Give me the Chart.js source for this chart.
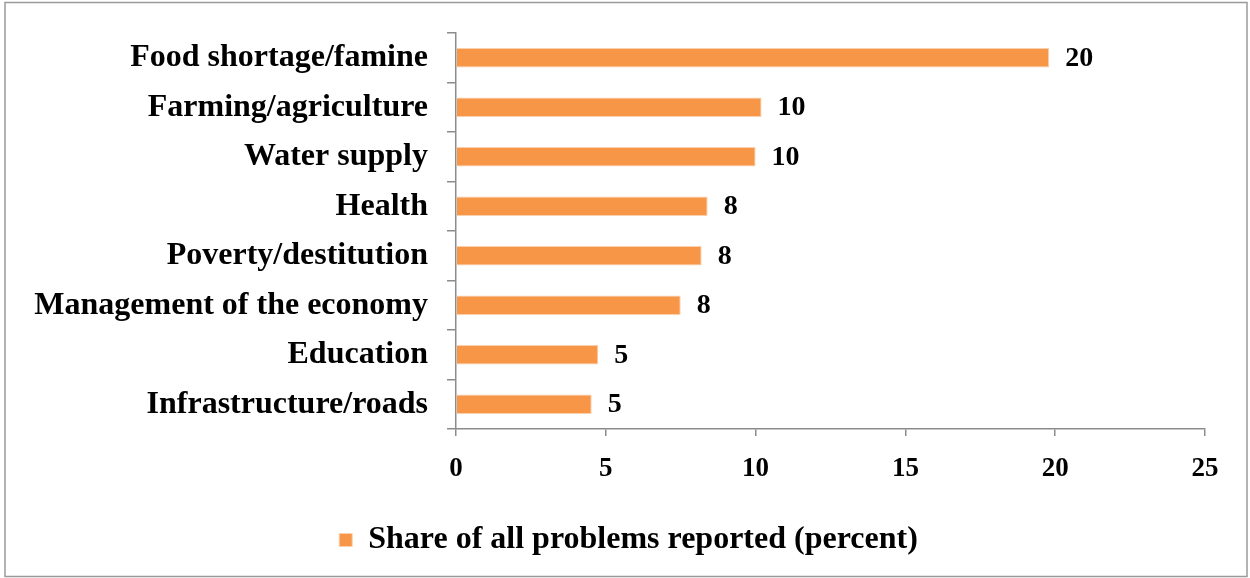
<!DOCTYPE html>
<html>
<head>
<meta charset="utf-8">
<script src="https://cdn.jsdelivr.net/npm/chart.js@4/dist/chart.umd.min.js"></script>
<style>
  html, body { margin: 0; padding: 0; background: #fff; }
  #wrap { width: 1250px; height: 578px; position: relative; }
</style>
</head>
<body>
<div id="wrap"><canvas id="problemsChart" width="1250" height="578"></canvas></div>
<script>
const categories = [
  'Food shortage/famine',
  'Farming/agriculture',
  'Water supply',
  'Health',
  'Poverty/destitution',
  'Management of the economy',
  'Education',
  'Infrastructure/roads'
];
const shares = [19.8, 10.2, 10.0, 8.4, 8.2, 7.5, 4.75, 4.53];
const xTicks = [0, 5, 10, 15, 20, 25];
const seriesName = 'Share of all problems reported (percent)';

const FONT = "'Liberation Serif', 'Times New Roman', serif";
const AXIS = '#8c8c8c';
const LEGEND_SHIFT_X = 26;
const LEGEND_SHIFT_Y = 2;

// outer frame around the whole figure, and nudge the legend a bit
const frame = {
  id: 'frame',
  beforeDraw(chart) {
    const ctx = chart.ctx;
    ctx.save();
    ctx.fillStyle = '#fff';
    ctx.fillRect(0, 0, chart.width, chart.height);
    ctx.strokeStyle = '#9a9a9a';
    ctx.lineWidth = 1.5;
    ctx.strokeRect(5, 2.5, 1242, 574);
    ctx.restore();
    const lg = chart.legend;
    if (lg && !lg._shifted) {
      lg.left += LEGEND_SHIFT_X;
      lg.right += LEGEND_SHIFT_X;
      lg.top += LEGEND_SHIFT_Y;
      lg.bottom += LEGEND_SHIFT_Y;
      lg._shifted = true;
    }
  }
};

// rounded value written just past the end of each bar
const valueLabels = {
  id: 'valueLabels',
  afterDatasetsDraw(chart) {
    const ctx = chart.ctx;
    const meta = chart.getDatasetMeta(0);
    ctx.save();
    ctx.font = 'bold 28px ' + FONT;
    ctx.fillStyle = '#000';
    ctx.textAlign = 'left';
    ctx.textBaseline = 'middle';
    meta.data.forEach((bar, i) => {
      ctx.fillText(String(Math.round(shares[i])), bar.x + 16, bar.y + 1);
    });
    ctx.restore();
  }
};

new Chart(document.getElementById('problemsChart'), {
  type: 'bar',
  data: {
    labels: categories,
    datasets: [{
      label: seriesName,
      data: shares,
      backgroundColor: '#F79646',
      borderColor: '#FAD0AE',
      borderWidth: 1,
      categoryPercentage: 1,
      barPercentage: 0.39
    }]
  },
  options: {
    indexAxis: 'y',
    responsive: false,
    animation: false,
    layout: { padding: { top: 33, right: 45, left: 0, bottom: 14 } },
    scales: {
      x: {
        min: 0,
        max: 25,
        afterBuildTicks(scale) {
          scale.ticks = xTicks.map(v => ({ value: v }));
        },
        afterFit(scale) { scale.height = 85; },
        grid: {
          drawOnChartArea: false,
          tickLength: 7,
          color: AXIS,
          lineWidth: 1.5
        },
        border: { color: AXIS, width: 1.5 },
        ticks: {
          color: '#000',
          padding: 17,
          font: { family: FONT, size: 27, weight: 'bold' }
        }
      },
      y: {
        afterFit(scale) {
          scale.width = 456;
          scale.paddingTop = 0;
          scale.paddingBottom = 0;
        },
        grid: {
          offset: true,
          drawOnChartArea: false,
          tickLength: 9,
          color: AXIS,
          lineWidth: 1.5
        },
        border: { color: AXIS, width: 1.5 },
        ticks: {
          color: '#000',
          padding: 19,
          font: { family: FONT, size: 32, weight: 'bold' }
        }
      }
    },
    plugins: {
      legend: {
        position: 'bottom',
        labels: {
          color: '#000',
          boxWidth: 13,
          boxHeight: 13,
          padding: 8,
          font: { family: FONT, size: 32, weight: 'bold' }
        }
      },
      tooltip: { enabled: false }
    }
  },
  plugins: [frame, valueLabels]
});
</script>
</body>
</html>
